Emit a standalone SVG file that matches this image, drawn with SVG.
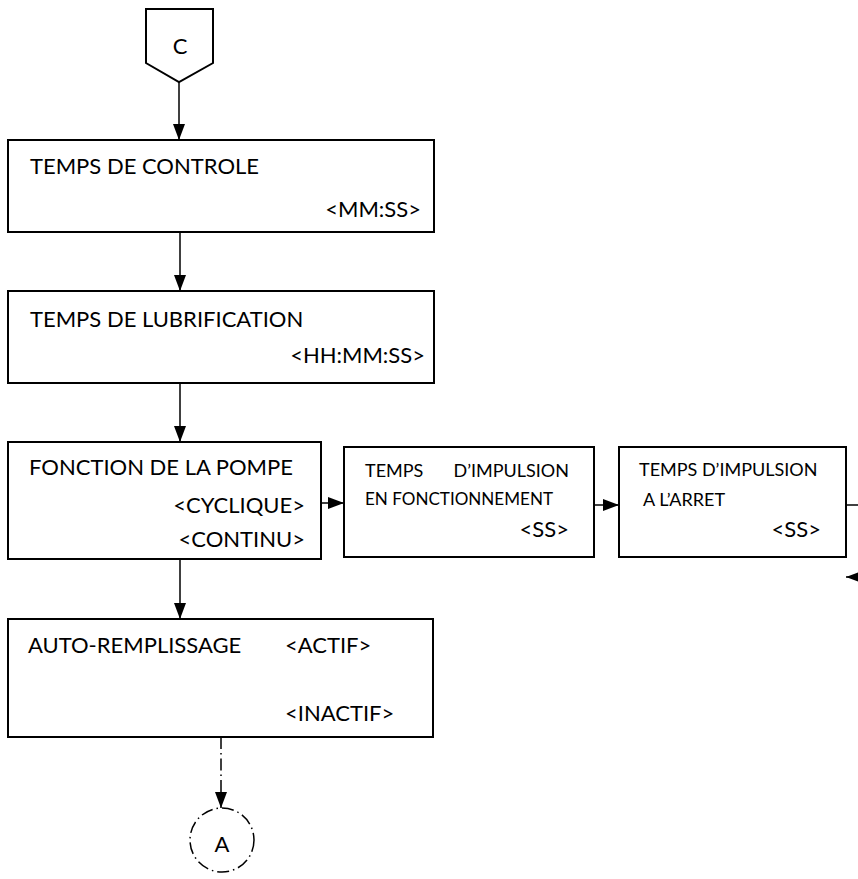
<svg xmlns="http://www.w3.org/2000/svg" width="858" height="879" viewBox="0 0 858 879">
<defs>
<style>
.box{fill:#fff;stroke:#000;stroke-width:2}
.t{font-family:Lato,"Liberation Sans",sans-serif;font-size:22px;fill:#000}
.s{font-family:Lato,"Liberation Sans",sans-serif;font-size:18px;fill:#000}
.e{text-anchor:end}
.c{stroke:#000;stroke-width:1.5;fill:none}
.dd{stroke-dasharray:12 4 1.5 4}
</style>
<marker id="ah" markerUnits="userSpaceOnUse" markerWidth="16" markerHeight="12" viewBox="0 0 16 12" refX="16" refY="6" orient="auto">
<path d="M0,0 L16,6 L0,12 Z" fill="#000"/>
</marker>
</defs>
<g id="connectors">
<line class="c" x1="179" y1="82" x2="179" y2="140" marker-end="url(#ah)"/>
<line class="c" x1="180" y1="232" x2="180" y2="291" marker-end="url(#ah)"/>
<line class="c" x1="180" y1="383" x2="180" y2="442" marker-end="url(#ah)"/>
<line class="c" x1="321" y1="503" x2="344" y2="503" marker-end="url(#ah)"/>
<line class="c" x1="594" y1="505" x2="619" y2="505" marker-end="url(#ah)"/>
<line class="c" x1="846" y1="505" x2="858" y2="505"/>
<line class="c" x1="862" y1="577" x2="846" y2="577" marker-end="url(#ah)"/>
<line class="c" x1="180" y1="559" x2="180" y2="619" marker-end="url(#ah)"/>
<line class="c dd" x1="221" y1="737" x2="221" y2="808" marker-end="url(#ah)"/>
</g>
<g id="nodeC">
<polygon class="box" points="146,9 213,9 213,63 179,82 146,63"/>
<text class="t" x="180" y="54" text-anchor="middle">C</text>
</g>
<g id="tempsControle">
<rect class="box" x="8" y="140" width="426" height="92"/>
<text class="t" x="30" y="174">TEMPS DE CONTROLE</text>
<text class="t e" x="421" y="217">&lt;MM:SS&gt;</text>
</g>
<g id="tempsLubrification">
<rect class="box" x="8" y="291" width="426" height="92"/>
<text class="t" x="30" y="327">TEMPS DE LUBRIFICATION</text>
<text class="t e" x="425" y="363">&lt;HH:MM:SS&gt;</text>
</g>
<g id="fonctionPompe">
<rect class="box" x="8" y="442" width="313" height="117"/>
<text class="t" x="29" y="475">FONCTION DE LA POMPE</text>
<text class="t e" x="305" y="513">&lt;CYCLIQUE&gt;</text>
<text class="t e" x="305" y="547">&lt;CONTINU&gt;</text>
</g>
<g id="impulsionFonctionnement">
<rect class="box" x="344" y="447" width="250" height="110"/>
<text class="s" x="365" y="477">TEMPS</text>
<text class="s e" x="569" y="477">D’IMPULSION</text>
<text class="s" x="365" y="505" textLength="188" lengthAdjust="spacingAndGlyphs">EN FONCTIONNEMENT</text>
<text class="t e" x="569" y="537">&lt;SS&gt;</text>
</g>
<g id="impulsionArret">
<rect class="box" x="619" y="447" width="227" height="110"/>
<text class="s" x="639" y="476">TEMPS D’IMPULSION</text>
<text class="s" x="643" y="506">A L’ARRET</text>
<text class="t e" x="821" y="537">&lt;SS&gt;</text>
</g>
<g id="autoRemplissage">
<rect class="box" x="8" y="619" width="425" height="118"/>
<text class="t" x="28" y="653">AUTO-REMPLISSAGE</text>
<text class="t" x="285" y="653">&lt;ACTIF&gt;</text>
<text class="t" x="285" y="721">&lt;INACTIF&gt;</text>
</g>
<g id="nodeA">
<circle class="c dd" cx="222" cy="840" r="32"/>
<text class="t" x="222" y="852" text-anchor="middle">A</text>
</g>
</svg>
